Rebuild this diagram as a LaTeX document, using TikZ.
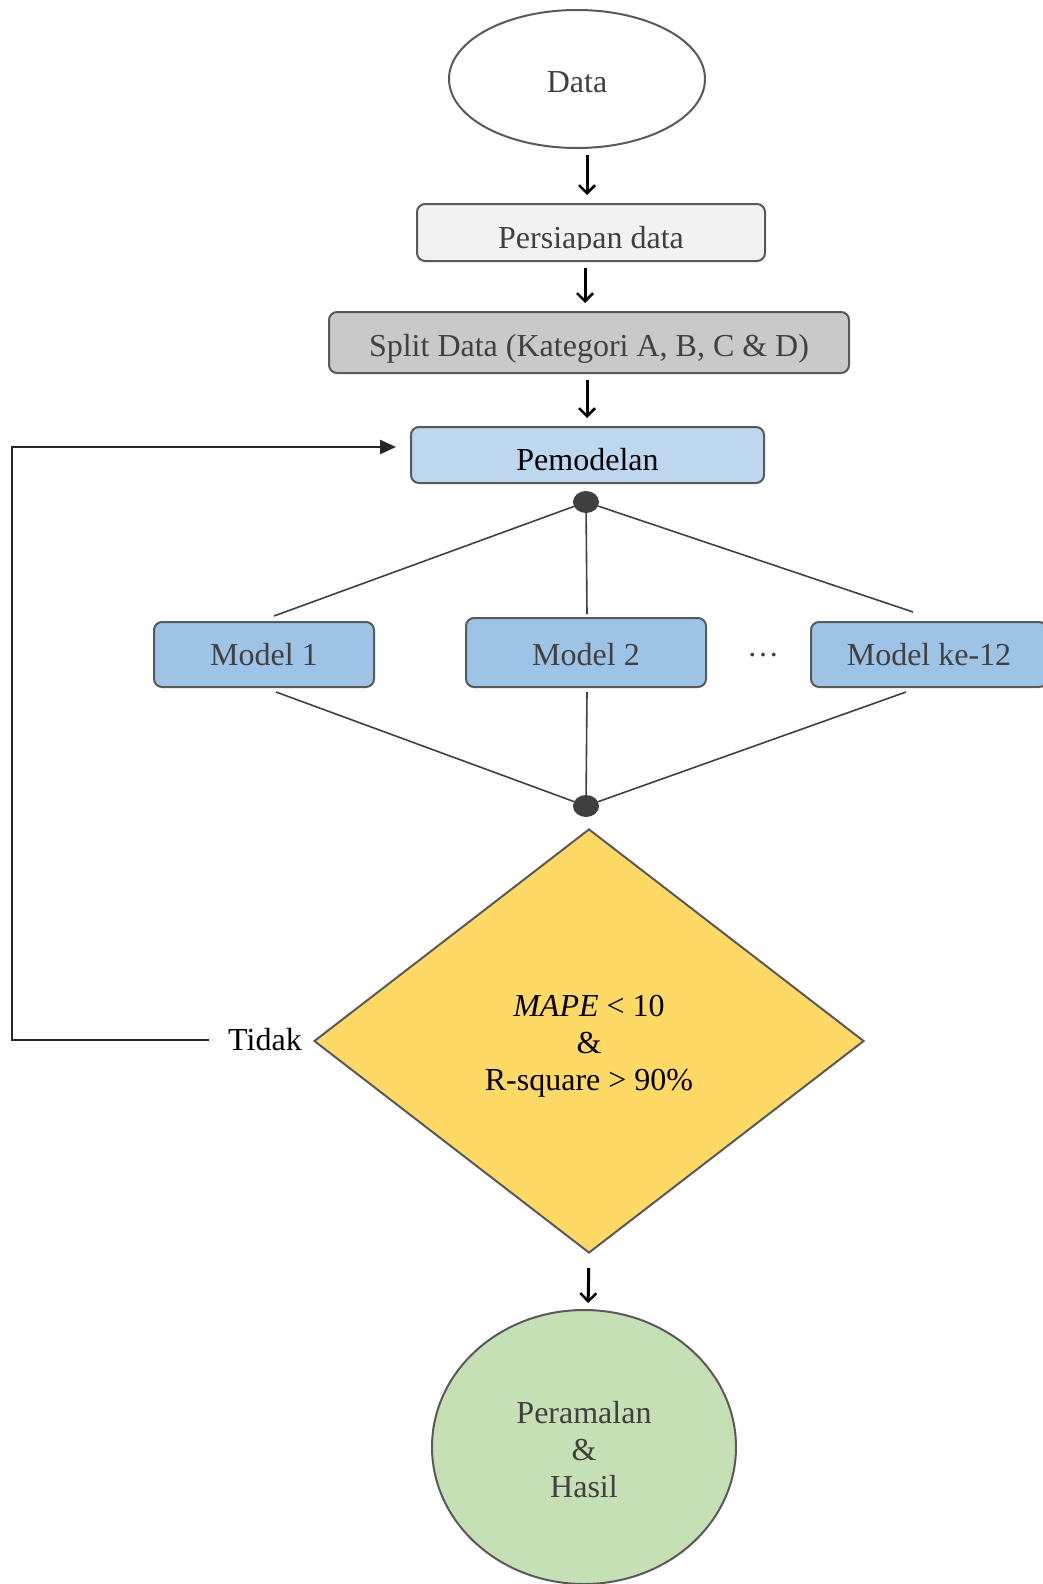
\documentclass[tikz,border=0pt]{standalone}
\usepackage{fontspec}
\setmainfont{Liberation Serif}
\usetikzlibrary{shapes.geometric,arrows.meta}
\definecolor{boxline}{HTML}{595959}
\definecolor{textgray}{HTML}{404040}
\definecolor{prepfill}{HTML}{F2F2F2}
\definecolor{splitfill}{HTML}{C9C9C9}
\definecolor{pemodfill}{HTML}{BDD7EE}
\definecolor{modelfill}{HTML}{9DC3E6}
\definecolor{decfill}{HTML}{FFD966}
\definecolor{resfill}{HTML}{C5E0B4}
\tikzset{
  every node/.style={font=\fontsize{32}{37}\selectfont},
  box/.style={draw=boxline, line width=2pt, rounded corners=8pt, inner sep=0pt},
  model/.style={box, fill=modelfill, text=textgray, minimum height=65pt},
  drop/.style={text depth=0pt, text height=#1},
  flow/.style={-{Straight Barb[length=8pt,width=16pt,line width=2.5pt]}, line width=3pt, shorten <=6pt, shorten >=8pt},
  branch/.style={line width=1.6pt, draw=textgray},
  knot/.style={ellipse, fill=textgray, minimum width=26pt, minimum height=22pt, inner sep=0pt},
}
\begin{document}
\begin{tikzpicture}[x=1pt,y=-1pt]
  \useasboundingbox (0,0) rectangle (1043,1584);
  % nodes
  \node[ellipse, draw=boxline, line width=2pt, minimum width=256pt, minimum height=138pt, text=textgray, drop=27.4pt] (data) at (577,79) {Data};
  \node[box, fill=prepfill, minimum width=348pt, minimum height=57pt] (prep) at (591,232.5) {};
  \begin{scope}
    \clip (prep.north west) rectangle (765,249.5);
    \node[anchor=base, text=textgray] (preptext) at (591,248) {Persiapan data};
  \end{scope}
  \node[box, fill=splitfill, text=textgray, minimum width=520pt, minimum height=61pt, drop=27.6pt] (split) at (589,342.5) {Split Data (Kategori A, B, C \& D)};
  \node[box, fill=pemodfill, minimum width=353pt, minimum height=56pt, drop=31.8pt] (pemod) at (587.5,455) {Pemodelan};
  \node[knot] (top) at (586,502) {};
  \node[model, minimum width=220pt] (m1) at (264,654.5) {Model 1};
  \node[model, minimum width=240pt, minimum height=69pt, drop=26pt] (m2) at (586,652.5) {Model 2};
  \node[model, minimum width=236pt] (m12) at (929,654.5) {Model ke-12};
  \node[text=textgray] (dots) at (763,655) {\dots};
  \node[knot] (bot) at (586,806) {};
  \node[diamond, draw=boxline, line width=2pt, fill=decfill, minimum width=550pt, minimum height=424pt, inner sep=0pt] (dec) at (589,1041) {};
  \node[align=center] (dectext) at ([yshift=-5pt]dec.center) {\textit{MAPE}~< 10\\ \&\\ R-square > 90\%};
  \node (tidak) at (265,1040) {Tidak};
  \node[ellipse, draw=boxline, line width=2pt, fill=resfill, minimum width=304pt, minimum height=274pt] (res) at (584,1447) {};
  \node[align=center, text=textgray] (restext) at ([yshift=-3pt]res.center) {Peramalan\\ \&\\ Hasil};
  \coordinate (loop) at (12,447);
  \coordinate (back) at (396,447);

  % arrows
  \draw[flow] ([xshift=10pt]data.south) -- ([xshift=-4pt]prep.north);
  \draw[flow] ([xshift=-6pt]prep.south) -- ([xshift=-4pt]split.north);
  \draw[flow] ([xshift=-2pt]split.south) -- ([xshift=-0.5pt]pemod.north);
  \draw[flow, shorten <=14pt, shorten >=6pt] (dec.south) -- ([xshift=4pt]res.north);

  % branches
  \draw[branch] (top) -- ([xshift=10pt,yshift=5pt]m1.north);
  \draw[branch] (top) -- ([xshift=1pt,yshift=3pt]m2.north);
  \draw[branch] (top) -- ([xshift=-16pt,yshift=9pt]m12.north);
  \draw[branch] ([xshift=12pt,yshift=-4pt]m1.south) -- (bot);
  \draw[branch] ([xshift=1pt,yshift=-4pt]m2.south) -- (bot);
  \draw[branch] ([xshift=-23pt,yshift=-4pt]m12.south) -- (bot);

  % loop back
  \draw[line width=2.5pt, draw=black!85, -{Triangle[length=16pt,width=14pt]}] ([xshift=-16pt]tidak.west) -| (loop) -- (back);
\end{tikzpicture}
\end{document}
